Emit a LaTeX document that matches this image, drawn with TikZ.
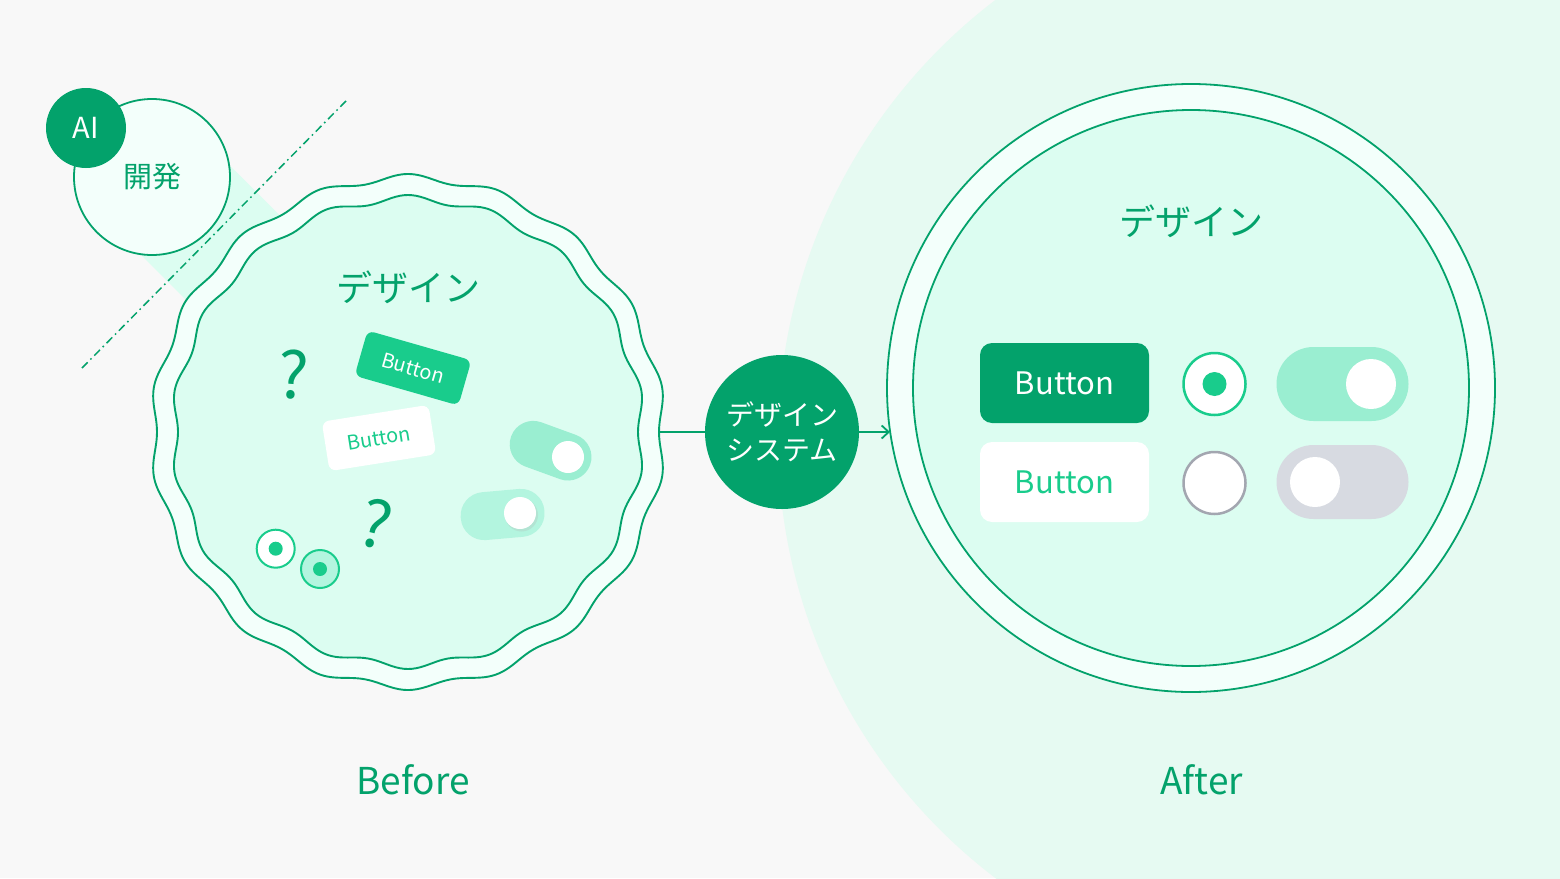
\documentclass[tikz,border=0pt]{standalone}
\usepackage{fontspec}
\setmainfont{Noto Sans CJK JP}
\usetikzlibrary{arrows.meta}
\definecolor{bggray}{HTML}{F8F8F8}
\definecolor{bgmint}{HTML}{E6FAF2}
\definecolor{dkgreen}{HTML}{03A26B}
\definecolor{brgreen}{HTML}{19CC8C}
\definecolor{palegreen}{HTML}{9AEED1}
\definecolor{lightgreen}{HTML}{B3F5DF}
\definecolor{fillmint}{HTML}{DCFDF1}
\definecolor{ringmint}{HTML}{F3FFFB}
\definecolor{offgray}{HTML}{D7DAE1}
\definecolor{radiogray}{HTML}{A3A6B0}
\tikzset{>={Straight Barb[length=7pt,width=13pt]}}
\tikzset{
  declare function={wavr(\t,\r)=\r+3.5*cos(18*(\t-90));},
  wavyline/.style={draw=dkgreen, line width=1.9pt},
  ring/.style={circle, draw=dkgreen, line width=1.8pt, inner sep=0pt},
  titletext/.style={text=dkgreen, font=\fontsize{36}{36}\selectfont},
  btn/.style={rounded corners=12pt, minimum width=169pt, minimum height=80pt, inner sep=0pt, font=\fontsize{31}{31}\selectfont},
  minibtn/.style={rounded corners=7pt, minimum width=108pt, minimum height=47pt, inner sep=0pt, font=\fontsize{20}{20}\selectfont},
  radio/.style={circle, draw=brgreen, line width=2.5pt, fill=white, minimum size=62pt, inner sep=0pt},
  miniradio/.style={circle, draw=brgreen, line width=2pt, fill=white, minimum size=38pt, inner sep=0pt},
  track/.style={rounded corners=37pt, minimum width=132pt, minimum height=74pt, inner sep=0pt},
  minitrack/.style={rounded corners=23.5pt, minimum width=84pt, minimum height=47pt, inner sep=0pt},
  qmark/.style={text=dkgreen, font=\fontsize{64}{64}\selectfont},
  caption/.style={text=dkgreen, font=\fontsize{37}{37}\selectfont}
}

\begin{document}
\begin{tikzpicture}[x=1pt, y=-1pt]
\useasboundingbox (0,0) rectangle (1560,878);
\begin{scope}
\clip (0,0) rectangle (1560,878);
\fill[bggray] (0,0) rectangle (1560,878);
\fill[bgmint] (1330,439) circle [radius=552pt];
\end{scope}

\fill[fillmint] (196.5,132.4) -- (452.5,387.4) -- (363.5,476.6) -- (107.5,221.6) -- cycle;
\coordinate (cutA) at (82,368);
\coordinate (cutB) at (346,101);
\draw[dkgreen, line width=1.5pt, dash pattern=on 8pt off 4pt on 1.5pt off 4pt] (cutA) -- (cutB);
\node[ring, fill=ringmint, minimum size=156pt, text=dkgreen, font=\fontsize{29}{29}\selectfont] (dev) at (152,177) {開発};
\node[circle, fill=dkgreen, minimum size=80pt, inner sep=0pt, text=white, font=\fontsize{29}{29}\selectfont] (ai) at (86,128) {AI};

\filldraw[wavyline, fill=ringmint] plot[domain=0:359, samples=360, smooth cycle] ({408+wavr(\x,254.5)*cos(\x)}, {432-wavr(\x,254.5)*sin(\x)});
\filldraw[wavyline, fill=fillmint] plot[domain=0:359, samples=360, smooth cycle] ({408+wavr(\x,233.5)*cos(\x)}, {432-wavr(\x,233.5)*sin(\x)});
\coordinate (beforeR) at (659,432);

\node[titletext] (beforeTitle) at (408,287) {デザイン};
\node[qmark, rotate=-4] (qA) at (293,375) {?};
\node[qmark, rotate=-14] (qB) at (376,524) {?};
\node[minibtn, fill=brgreen, text=white, rotate=-16] (bbtnA) at (413,368) {Button};
\node[minibtn, fill=white, text=brgreen, minimum height=50pt, rotate=9] (bbtnB) at (379,438) {Button};
\node[minitrack, fill=palegreen, rotate=-20] (btglA) at (550.6,450.7) {};
\fill[white] (568,457) circle [radius=16pt];
\node[minitrack, fill=lightgreen, minimum height=48pt, rotate=5] (btglB) at (502.6,514.5) {};
\fill[black!30, opacity=0.25] (521.5,515) circle [radius=16.5pt];
\fill[white] (520,513) circle [radius=16pt];
\node[miniradio] (bradA) at (275.7,548.7) {};
\fill[brgreen] (bradA) circle [radius=7pt];
\node[miniradio, fill=lightgreen] (bradB) at (320,569) {};
\fill[brgreen] (bradB) circle [radius=7pt];

\node[ring, fill=ringmint, minimum size=608pt] (after) at (1191,388) {};
\node[ring, fill=fillmint, minimum size=556pt] (afterIn) at (1191,388) {};
\coordinate (afterL) at (890,432);
\node[titletext] (afterTitle) at (1191,221) {デザイン};
\node[btn, fill=dkgreen, text=white] (btnA) at (1064.5,383) {Button};
\node[btn, fill=white, text=brgreen] (btnB) at (1064.5,482) {Button};
\node[radio] (radA) at (1214.5,384) {};
\fill[brgreen] (radA) circle [radius=12pt];
\node[radio, draw=radiogray] (radB) at (1214.5,483) {};
\node[track, fill=palegreen] (tglA) at (1342.5,384) {};
\fill[white] (1371,384) circle [radius=25pt];
\node[track, fill=offgray] (tglB) at (1342.5,482) {};
\fill[white] (1315,482) circle [radius=25pt];

\node[circle, fill=dkgreen, minimum size=154pt, inner sep=0pt, text=white, align=center, font=\fontsize{28}{35}\selectfont] (ds) at (782,432) {デザイン\\システム};
\draw[dkgreen, line width=1.8pt] (beforeR) -- (ds);
\draw[->, dkgreen, line width=1.8pt] (ds) -- (afterL);

\node[caption] (lblBefore) at (413,780) {Before};
\node[caption] (lblAfter) at (1202,780) {After};
\end{tikzpicture}
\end{document}
